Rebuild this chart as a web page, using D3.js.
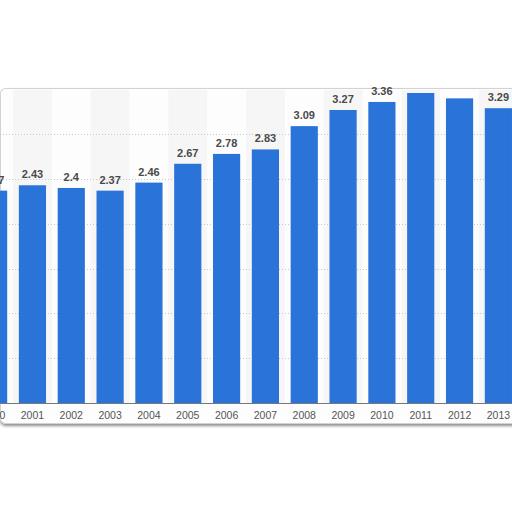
<!DOCTYPE html>
<html>
<head>
<meta charset="utf-8">
<script src="https://cdn.jsdelivr.net/npm/d3@7"></script>
<style>
  body { margin: 0; background: #fff; }
  svg { display: block; }
</style>
</head>
<body>
<svg width="512" height="512"></svg>
<script>
// data
const years = ['2000', '2001', '2002', '2003', '2004', '2005', '2006',
               '2007', '2008', '2009', '2010', '2011', '2012', '2013'];
const values = [2.37, 2.43, 2.4, 2.37, 2.46, 2.67, 2.78,
                2.83, 3.09, 3.27, 3.36, 3.46, 3.4, 3.29];
const gridTicks = [0.5, 1, 1.5, 2, 2.5, 3];

const data = years.map((y, i) => ({ year: y, value: values[i] }));

const svg = d3.select('svg');

// chart is cropped: first and last bars run off the page
const xScale = d3.scaleBand()
    .domain(years)
    .range([-25.8, 517.8])
    .paddingInner(0.3)
    .paddingOuter(0.15);
const step = xScale.step();

const yScale = d3.scaleLinear().domain([0, 3.5]).range([403, 89.4]);

// paper panel with shadow at the bottom
const defs = svg.append('defs');
const shadow = defs.append('filter').attr('id', 'shadow')
    .attr('x', '-5%').attr('y', '-5%').attr('width', '110%').attr('height', '115%');
shadow.append('feGaussianBlur').attr('in', 'SourceAlpha').attr('stdDeviation', 1.6);
shadow.append('feOffset').attr('dx', 0).attr('dy', 2).attr('result', 'b');
shadow.append('feComponentTransfer').append('feFuncA').attr('type', 'linear').attr('slope', 0.45);
const merge = shadow.append('feMerge');
merge.append('feMergeNode');
merge.append('feMergeNode').attr('in', 'SourceGraphic');

svg.append('rect')
    .attr('x', 0.5).attr('y', 88.5)
    .attr('width', 530).attr('height', 335)
    .attr('rx', 5)
    .attr('fill', '#fdfdfd')
    .attr('stroke', '#d2d2d2')
    .attr('stroke-width', 1)
    .attr('filter', 'url(#shadow)');

// alternating column shading
svg.selectAll('.band')
    .data(data.filter((d, i) => i % 2 === 1))
    .enter()
    .append('rect')
    .classed('band', true)
    .attr('x', d => xScale(d.year) - step * 0.15)
    .attr('y', 90)
    .attr('width', step)
    .attr('height', yScale(0) - 90)
    .attr('fill', '#f6f6f7');

// dotted grid
svg.selectAll('.grid')
    .data(gridTicks)
    .enter()
    .append('line')
    .classed('grid', true)
    .attr('x1', 0).attr('x2', 512)
    .attr('y1', d => Math.round(yScale(d)) + 0.5)
    .attr('y2', d => Math.round(yScale(d)) + 0.5)
    .attr('stroke', '#c8c8c8')
    .attr('stroke-width', 1)
    .attr('stroke-dasharray', '1,2');

// bars
svg.selectAll('.bar')
    .data(data)
    .enter()
    .append('rect')
    .classed('bar', true)
    .attr('x', d => xScale(d.year))
    .attr('y', d => yScale(d.value))
    .attr('width', xScale.bandwidth())
    .attr('height', d => yScale(0) - yScale(d.value))
    .attr('fill', '#2a73d9');

// baseline
svg.append('line')
    .attr('x1', 0).attr('x2', 512)
    .attr('y1', yScale(0) + 0.5).attr('y2', yScale(0) + 0.5)
    .attr('stroke', '#777').attr('stroke-width', 1.2);

// x axis labels
const xAxis = d3.axisBottom(xScale).tickSize(0).tickPadding(9);
const gx = svg.append('g')
    .attr('transform', `translate(0,${yScale(0)})`)
    .call(xAxis);
gx.select('.domain').remove();
gx.selectAll('text')
    .attr('fill', '#555')
    .style('font-family', 'Liberation Sans, Arial, sans-serif')
    .style('font-size', '10.5px');

// value labels; near 2011/2012 the torn paper edge swallows them
defs.append('clipPath').attr('id', 'clipTop')
    .append('path')
    .attr('d', 'M0,85 H400 V93 H478 V85 H512 V512 H0 Z');

svg.append('g')
    .attr('clip-path', 'url(#clipTop)')
    .selectAll('.label')
    .data(data)
    .enter()
    .append('text')
    .classed('label', true)
    .attr('x', d => xScale(d.year) + xScale.bandwidth() / 2)
    .attr('y', d => yScale(d.value) - 7)
    .attr('text-anchor', 'middle')
    .attr('fill', '#4a4a4a')
    .style('font-family', 'Liberation Sans, Arial, sans-serif')
    .style('font-weight', 'bold')
    .style('font-size', '11px')
    .text(d => d.value);
</script>
</body>
</html>
